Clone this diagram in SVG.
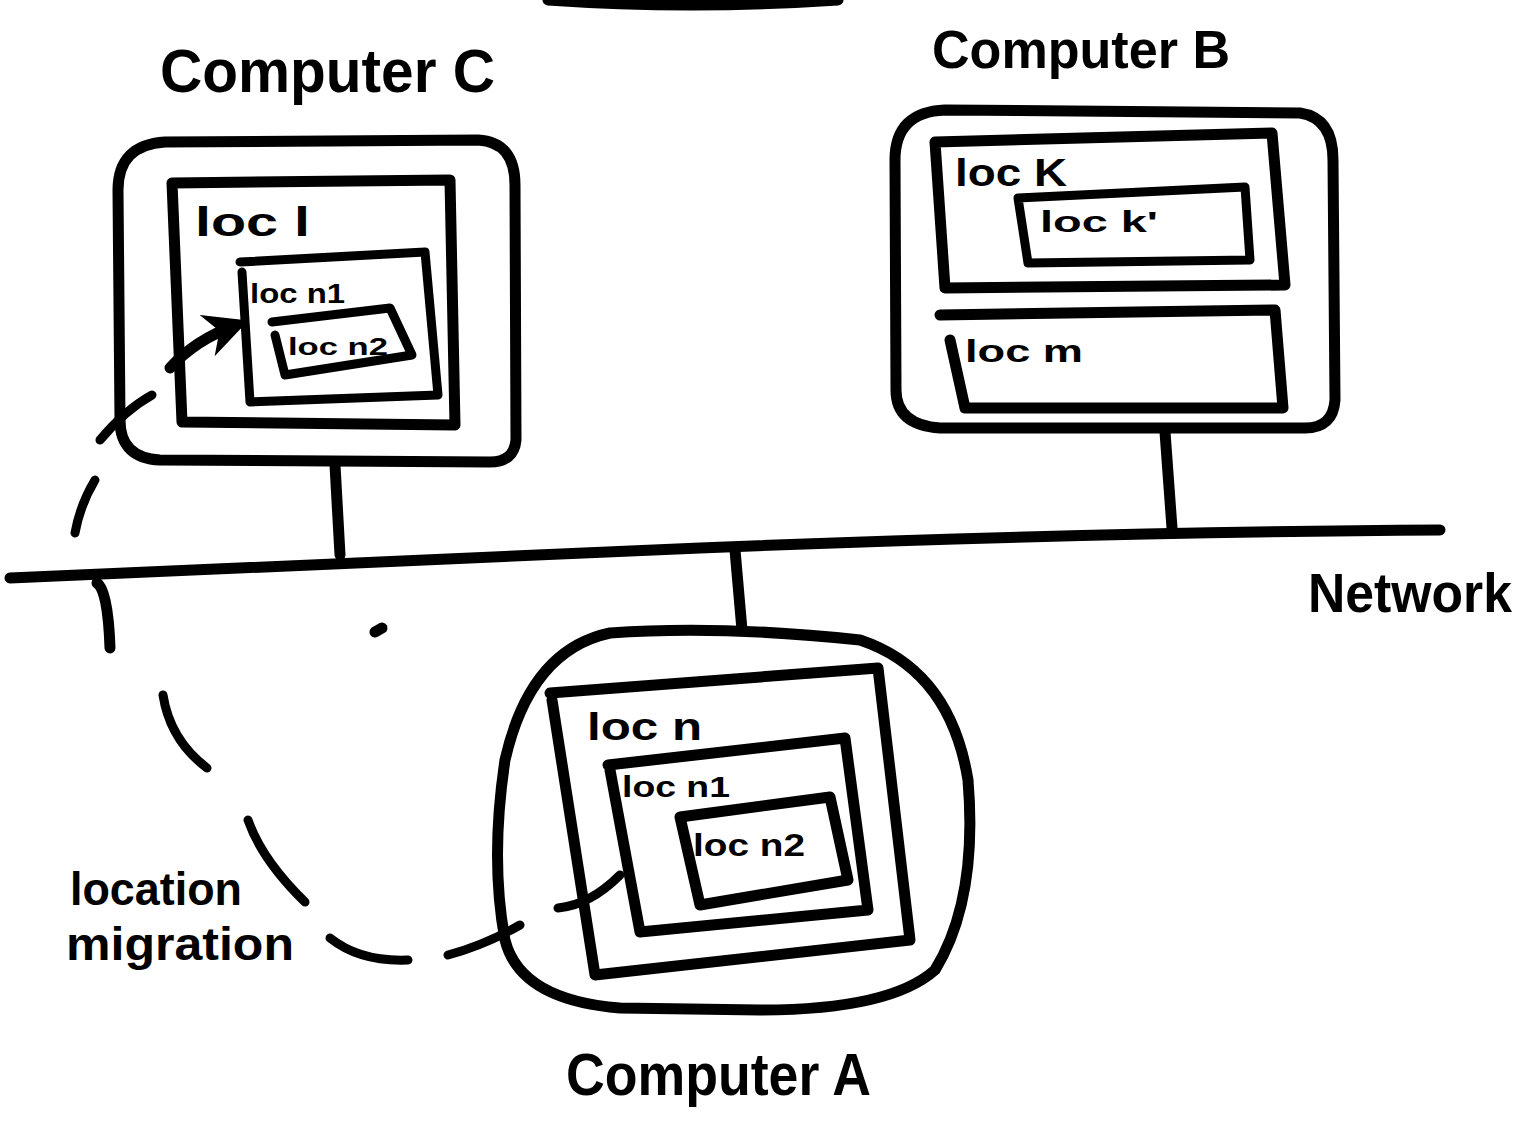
<svg xmlns="http://www.w3.org/2000/svg" width="1526" height="1141" viewBox="0 0 1526 1141">
<defs>
<style>
.s{fill:none;stroke:#000;stroke-width:11;stroke-linecap:round;stroke-linejoin:round}
.t{fill:none;stroke:#000;stroke-width:9;stroke-linecap:round;stroke-linejoin:round}
.lbl{font-family:"Liberation Sans",Arial,sans-serif;font-weight:bold;fill:#000}
</style>
<marker id="ah" viewBox="0 0 10 10" refX="7" refY="5" markerWidth="4" markerHeight="4" orient="auto">
<path d="M0,0 L10,5 L0,10 L3,5 Z" fill="#000"/>
</marker>
</defs>
<rect width="1526" height="1141" fill="#fff"/>

<path class="s" d="M548,0 Q690,10 838,0"/>

<g id="computer-c">
<text class="lbl" x="160" y="92" font-size="62" textLength="335" lengthAdjust="spacingAndGlyphs">Computer C</text>
<path class="s" d="M165,142 L478,140 Q515,142 515,185 L516,440 Q514,462 490,462 L160,460 Q120,458 120,420 L118,190 Q118,145 165,142 Z"/>
<g id="loc-l">
<path class="s" d="M172,183 L450,180 L455,425 L182,422 Z"/>
<text class="lbl" x="195" y="236" font-size="40" textLength="115" lengthAdjust="spacingAndGlyphs">loc l</text>
</g>
<g id="loc-n1-c">
<path class="t" d="M240,262 L425,252 L438,395 L250,402 L242,272"/>
<text class="lbl" x="250" y="303" font-size="28" textLength="95" lengthAdjust="spacingAndGlyphs">loc n1</text>
</g>
<g id="loc-n2-c">
<path class="t" d="M272,322 L390,308 L412,355 L285,375 L275,335"/>
<text class="lbl" x="288" y="355" font-size="24" textLength="100" lengthAdjust="spacingAndGlyphs">loc n2</text>
</g>
</g>

<g id="computer-b">
<text class="lbl" x="932" y="68" font-size="54" textLength="298" lengthAdjust="spacingAndGlyphs">Computer B</text>
<path class="s" d="M945,110 L1300,113 Q1333,118 1333,160 L1335,400 Q1333,428 1305,428 L940,428 Q896,425 896,390 L895,160 Q895,112 945,110 Z"/>
<g id="loc-k">
<path class="s" d="M935,142 L1272,133 L1285,285 L945,288 Z"/>
<text class="lbl" x="955" y="186" font-size="38" textLength="112" lengthAdjust="spacingAndGlyphs">loc K</text>
</g>
<g id="loc-k2">
<path class="t" d="M1018,198 L1245,187 L1250,260 L1028,263 Z"/>
<text class="lbl" x="1040" y="232" font-size="30" textLength="118" lengthAdjust="spacingAndGlyphs">loc k'</text>
</g>
<g id="loc-m">
<path class="s" d="M940,315 L1275,310 L1283,408 L965,408 L950,340"/>
<text class="lbl" x="965" y="362" font-size="32" textLength="118" lengthAdjust="spacingAndGlyphs">loc m</text>
</g>
</g>

<g id="computer-a">
<text class="lbl" x="566" y="1095" font-size="60" textLength="305" lengthAdjust="spacingAndGlyphs">Computer A</text>
<path class="s" d="M610,633 Q720,625 860,640 Q950,670 968,780 Q978,900 935,970 Q890,1010 760,1010 L620,1008 Q520,1000 505,940 Q490,860 505,760 Q530,650 610,633 Z"/>
<g id="loc-n">
<path class="s" d="M550,693 L878,668 L910,940 L595,975 L552,700"/>
<text class="lbl" x="587" y="740" font-size="38" textLength="115" lengthAdjust="spacingAndGlyphs">loc n</text>
</g>
<g id="loc-n1-a">
<path class="s" d="M608,765 L845,738 L868,910 L640,932 L610,770"/>
<text class="lbl" x="622" y="797" font-size="30" textLength="108" lengthAdjust="spacingAndGlyphs">loc n1</text>
</g>
<g id="loc-n2-a">
<path class="s" d="M680,817 L830,797 L848,880 L700,905 Z"/>
<text class="lbl" x="693" y="856" font-size="32" textLength="112" lengthAdjust="spacingAndGlyphs">loc n2</text>
</g>
</g>

<g id="network">
<text class="lbl" x="1308" y="612" font-size="56" textLength="204" lengthAdjust="spacingAndGlyphs">Network</text>
</g>

<g id="migration-label">
<text class="lbl" x="70" y="905" font-size="46" textLength="172" lengthAdjust="spacingAndGlyphs">location</text>
<text class="lbl" x="66" y="960" font-size="46" textLength="228" lengthAdjust="spacingAndGlyphs">migration</text>
</g>

<g id="connectors">
<path class="s" d="M10,578 Q300,565 700,548 Q1100,532 1440,530"/>
<path class="s" d="M335,465 L340,555"/>
<path class="s" d="M1165,432 L1172,528"/>
<path class="s" d="M735,550 L742,630"/>
<path class="s" d="M97,583 Q108,590 110,648"/>
<path class="s" d="M375,632 L382,628"/>
<path class="t" d="M620,875 Q590,905 558,908"/>
<path class="t" d="M448,955 Q485,945 520,925"/>
<path class="t" d="M330,938 Q360,962 408,960"/>
<path class="t" d="M248,820 Q262,860 305,902"/>
<path class="t" d="M163,695 Q170,740 207,768"/>
<path class="t" d="M75,533 Q80,505 95,480"/>
<path class="t" d="M100,440 Q125,410 152,395"/>
<path class="s" d="M170,368 Q195,340 236,325" marker-end="url(#ah)"/>
</g>
</svg>
